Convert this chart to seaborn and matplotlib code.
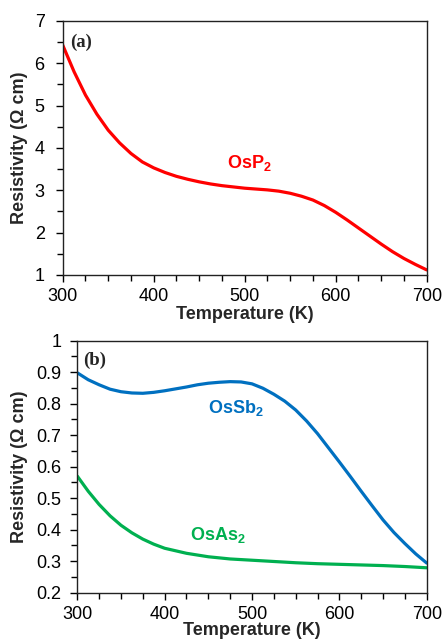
import numpy as np
import pandas as pd
import matplotlib
matplotlib.use("Agg")
import matplotlib.pyplot as plt
from matplotlib.ticker import MultipleLocator
import seaborn as sns

# ---- data ----
t_osp2 = [300, 312.5, 325, 337.5, 350, 362.5, 375, 387.5, 400, 412.5, 425, 437.5, 450, 462.5, 475,
          487.5, 500, 512.5, 525, 537.5, 550, 562.5, 575, 587.5, 600, 612.5, 625, 637.5, 650,
          662.5, 675, 687.5, 700]
osp2 = [6.43, 5.80, 5.25, 4.80, 4.42, 4.12, 3.87, 3.67, 3.53, 3.42, 3.33, 3.26, 3.20, 3.15, 3.11,
        3.08, 3.05, 3.03, 3.01, 2.98, 2.93, 2.86, 2.77, 2.64, 2.48, 2.30, 2.11, 1.92, 1.73,
        1.55, 1.39, 1.25, 1.12]

t_ossb2 = [300, 312.5, 325, 337.5, 350, 362.5, 375, 387.5, 400, 412.5, 425, 437.5, 450, 462.5, 475,
           487.5, 500, 512.5, 525, 537.5, 550, 562.5, 575, 587.5, 600, 612.5, 625, 637.5, 650,
           662.5, 675, 687.5, 700]
ossb2 = [0.898, 0.876, 0.860, 0.846, 0.838, 0.834, 0.833, 0.836, 0.841, 0.847, 0.853, 0.860, 0.865,
         0.868, 0.870, 0.869, 0.863, 0.849, 0.830, 0.808, 0.780, 0.745, 0.705, 0.660, 0.615, 0.569,
         0.522, 0.476, 0.431, 0.391, 0.356, 0.323, 0.294]

t_osas2 = [300, 312.5, 325, 337.5, 350, 362.5, 375, 387.5, 400, 425, 450, 475, 500, 525, 550, 575,
           600, 625, 650, 675, 700]
osas2 = [0.570, 0.522, 0.480, 0.444, 0.414, 0.390, 0.370, 0.354, 0.341, 0.325, 0.314, 0.307, 0.303,
         0.299, 0.295, 0.292, 0.290, 0.288, 0.286, 0.283, 0.279]

x_ticks = [300, 400, 500, 600, 700]
top_yticks = [1, 2, 3, 4, 5, 6, 7]
bot_yticks = [0.2, 0.3, 0.4, 0.5, 0.6, 0.7, 0.8, 0.9, 1.0]
bot_ylabels = ["0.2", "0.3", "0.4", "0.5", "0.6", "0.7", "0.8", "0.9", "1"]

sns.set_style("ticks")
plt.rcParams['font.family'] = ['Liberation Sans', 'DejaVu Sans']
plt.rcParams['mathtext.fontset'] = 'custom'
plt.rcParams['mathtext.rm'] = 'Liberation Sans'
plt.rcParams['mathtext.bf'] = 'Liberation Sans:bold'

RED = "#FF0000"
BLUE = "#0070C0"
GREEN = "#00B050"

fig = plt.figure(figsize=(4.42, 6.41), dpi=100)
ax1 = fig.add_axes([0.1419, 0.571, 0.8235, 0.3963])
ax2 = fig.add_axes([0.1749, 0.0754, 0.7905, 0.3931])

df_top = pd.DataFrame({"T": t_osp2, "rho": osp2})
sns.lineplot(data=df_top, x="T", y="rho", ax=ax1, color=RED, lw=2.3)

df_bot = pd.DataFrame({"T": t_ossb2 + t_osas2,
                       "rho": ossb2 + osas2,
                       "mat": ["OsSb2"] * len(t_ossb2) + ["OsAs2"] * len(t_osas2)})
sns.lineplot(data=df_bot, x="T", y="rho", hue="mat", palette={"OsSb2": BLUE, "OsAs2": GREEN},
             ax=ax2, lw=2.3, legend=False)

for ax in (ax1, ax2):
    ax.set_xlim(300, 700)
    ax.set_xticks(x_ticks)
    ax.xaxis.set_minor_locator(MultipleLocator(25))
    ax.tick_params(which='major', direction='out', length=5, width=1, labelsize=13, colors='black')
    ax.tick_params(which='minor', direction='out', length=4, width=1, colors='black')
    ax.tick_params(axis='x', which='major', pad=4.5)
    for s in ax.spines.values():
        s.set_visible(True)
        s.set_color('#222222')
        s.set_linewidth(1.0)
    ax.set_xlabel("Temperature (K)", fontsize=13, fontweight='bold')
    ax.set_ylabel("Resistivity (Ω cm)", fontsize=13, fontweight='bold')

ax1.tick_params(axis='y', which='major', pad=8)
ax2.tick_params(axis='y', which='major', pad=6.5)

ax1.set_ylim(1, 7)
ax1.set_yticks(top_yticks)
ax1.yaxis.set_minor_locator(MultipleLocator(0.5))

ax2.set_ylim(0.2, 1.0)
ax2.set_yticks(bot_yticks)
ax2.set_yticklabels(bot_ylabels)
ax2.yaxis.set_minor_locator(MultipleLocator(0.05))

ax1.yaxis.set_label_coords(-0.095, 0.5)
ax2.yaxis.set_label_coords(-0.141, 0.5)
ax1.xaxis.set_label_coords(0.5, -0.122)
ax2.xaxis.set_label_coords(0.5, -0.116)

ax1.text(505, 3.65, r"OsP$_\mathbf{2}$", color=RED, fontsize=13, fontweight='bold', ha='center', va='center')
ax2.text(482, 0.785, r"OsSb$_\mathbf{2}$", color=BLUE, fontsize=13, fontweight='bold', ha='center', va='center')
ax2.text(461, 0.383, r"OsAs$_\mathbf{2}$", color=GREEN, fontsize=13, fontweight='bold', ha='center', va='center')

ax1.text(308, 6.5, "(a)", family='Liberation Serif', fontsize=13.5, fontweight='bold', ha='left', va='center')
ax2.text(307, 0.939, "(b)", family='Liberation Serif', fontsize=13.5, fontweight='bold', ha='left', va='center')

fig.savefig("out.png", dpi=100)
